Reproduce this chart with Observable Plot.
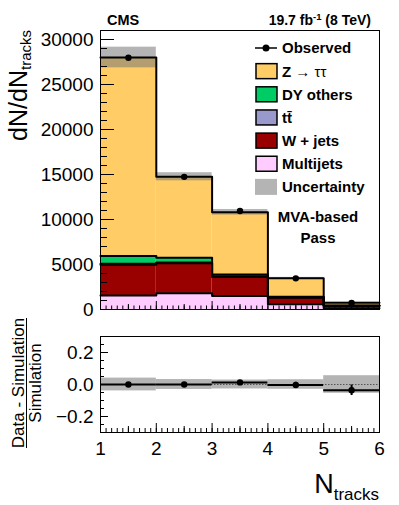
<!DOCTYPE html>
<html><head><meta charset="utf-8">
<script src="https://cdn.jsdelivr.net/npm/d3@7"></script>
<script src="https://cdn.jsdelivr.net/npm/@observablehq/plot@0.6"></script>
<style>
body{margin:0;background:#fff;font-family:"Liberation Sans",Arial,sans-serif;}
#wrap{position:relative;width:399px;height:505px;overflow:hidden;background:#fff}
#topPanel,#ratioPanel{position:absolute;left:0}
#topPanel{top:0}
#ratioPanel{top:300px}
</style></head><body><div id="wrap"><div id="topPanel"></div><div id="ratioPanel"></div></div>
<script>
// ---- data ----
const binLow = [1, 2, 3, 4, 5];
const binHigh = [2, 3, 4, 5, 6];
const processes = ["Multijets", "W + jets", "tt\u0304", "DY others", "Z \u2192 \u03c4\u03c4"]; // bottom -> top
const colors = ["#ffccff", "#990000", "#9999cc", "#00cc66", "#ffcc66"];
const multijets = [1550, 1800, 1500, 580, 150];
const wjets     = [3430, 3330, 2110, 730, 250];
const ttbar     = [100, 90, 80, 40, 20];
const dyOthers  = [870, 540, 210, 60, 30];
const ztautau   = [22050, 8990, 6900, 2060, 310];
const observed  = [27980, 14740, 10940, 3460, 730];
const uncertainty = [1150, 450, 310, 100, 45];
const ratio    = [0.0, 0.0, 0.013, -0.003, -0.036];
const ratioErr = [0.006, 0.008, 0.010, 0.017, 0.033];
const ratioUnc = [0.040, 0.031, 0.028, 0.030, 0.055];
const yTicks = [0, 5000, 10000, 15000, 20000, 25000, 30000];
const xTicks = [1, 2, 3, 4, 5, 6];
const rTicks = [-0.2, 0, 0.2];
const legendLabels = ["Observed", "Z \u2192 \u03c4\u03c4", "DY others", "tt\u0304", "W + jets", "Multijets", "Uncertainty"];

// ---- derived tables ----
const idx = d3.range(binLow.length);
const stackArrays = [multijets, wjets, ttbar, dyOthers, ztautau];
const rows = idx.flatMap(i => stackArrays.map((a, j) => ({lo: binLow[i], hi: binHigh[i], process: processes[j], value: a[i]})));
const total = idx.map(i => d3.sum(stackArrays, a => a[i]));
const outline = stackArrays.flatMap((a, j) => {
  const cum = idx.map(i => d3.sum(stackArrays.slice(0, j + 1), b => b[i]));
  return [...idx.map(i => ({x: binLow[i], y: cum[i], p: j})), {x: binHigh[binHigh.length - 1], y: cum[cum.length - 1], p: j}];
});
const center = i => (binLow[i] + binHigh[i]) / 2;
const font = "'Liberation Sans', Arial, Helvetica, sans-serif";
const noText = () => "";

// ---- top panel ----
const topPlot = Plot.plot({
  width: 399, height: 320,
  marginLeft: 100, marginRight: 20, marginTop: 30, marginBottom: 11,
  x: {domain: [1, 6]},
  y: {domain: [0, 31000]},
  color: {domain: processes, range: colors},
  style: {fontFamily: font, fontSize: "19px", color: "black", background: "white", overflow: "visible"},
  marks: [
    Plot.rectY(rows, {x1: "lo", x2: "hi", y: "value", fill: "process", z: "process"}),
    Plot.rect(idx, {x1: i => binLow[i], x2: i => binHigh[i], y1: i => total[i] - uncertainty[i], y2: i => total[i] + uncertainty[i], fill: "#777", fillOpacity: 0.55}),
    Plot.line(outline, {x: "x", y: "y", z: "p", curve: "step-after", stroke: "black", strokeWidth: 2}),
    Plot.dot(idx, {x: center, y: i => observed[i], r: 3.2, fill: "black"}),
    Plot.axisY(yTicks, {tickSize: 0, tickPadding: 7, fontSize: 19, tickFormat: d => String(d), label: null}),
    Plot.axisY(d3.range(0, 31001, 1000), {tickSize: -7, tickFormat: noText, label: null}),
    Plot.axisY(yTicks, {tickSize: -14, tickFormat: noText, label: null}),
    Plot.axisX(d3.range(1, 6.001, 0.1), {tickSize: -3.5, tickFormat: noText, label: null}),
    Plot.axisX(d3.range(1.5, 6, 1), {tickSize: -5, tickFormat: noText, label: null}),
    Plot.axisX(xTicks, {tickSize: -8, tickFormat: noText, label: null}),
    Plot.frame({stroke: "black", strokeWidth: 1})
  ]
});
document.getElementById("topPanel").appendChild(topPlot);

const s = d3.select(topPlot);
s.append("text").attr("x", 107).attr("y", 25).attr("text-anchor", "start").attr("font-weight", "bold").attr("font-size", 14.5).text("CMS");
const lumi = s.append("text").attr("x", 371).attr("y", 25).attr("text-anchor", "end").attr("font-weight", "bold").attr("font-size", 14);
lumi.append("tspan").text("19.7 fb");
lumi.append("tspan").attr("dy", -5).attr("font-size", 9.5).text("-1");
lumi.append("tspan").attr("dy", 5).text(" (8 TeV)");

const yl = s.append("text").attr("transform", "translate(27,30) rotate(-90)").attr("text-anchor", "end").attr("font-size", 25);
yl.append("tspan").text("dN/dN");
yl.append("tspan").attr("font-size", 15).attr("dy", 4).text("tracks");

// legend
const lg = s.append("g").attr("font-weight", "bold").attr("font-size", 15).attr("text-anchor", "start");
const legendFill = [null, colors[4], colors[3], colors[2], colors[1], colors[0], "unc"];
legendLabels.forEach((lab, k) => {
  const cy = 48 + k * 23.15;
  if (k === 0) {
    lg.append("line").attr("x1", 255).attr("x2", 277).attr("y1", cy).attr("y2", cy).attr("stroke", "black").attr("stroke-width", 1.5);
    lg.append("circle").attr("cx", 266).attr("cy", cy).attr("r", 3.5).attr("fill", "black");
  } else if (legendFill[k] === "unc") {
    lg.append("rect").attr("x", 255).attr("y", cy - 8).attr("width", 22).attr("height", 16).attr("fill", "#777").attr("fill-opacity", 0.55);
  } else {
    lg.append("rect").attr("x", 256).attr("y", cy - 7.5).attr("width", 21).attr("height", 15).attr("fill", legendFill[k]).attr("stroke", "black").attr("stroke-width", 1.5);
  }
  const t = lg.append("text").attr("x", 282).attr("y", cy).attr("dy", "0.36em").attr("text-anchor", "start");
  if (k === 1) {
    t.append("tspan").text("Z");
    t.append("tspan").attr("font-weight", "normal").text(" \u2192 \u03c4\u03c4");
  } else {
    t.text(lab);
  }
});
s.append("text").attr("x", 318).attr("y", 222).attr("text-anchor", "middle").attr("font-weight", "bold").attr("font-size", 15).text("MVA-based");
s.append("text").attr("x", 318).attr("y", 243).attr("text-anchor", "middle").attr("font-weight", "bold").attr("font-size", 15).text("Pass");

// ---- ratio panel ----
const ratioPlot = Plot.plot({
  width: 399, height: 205,
  marginLeft: 100, marginRight: 20, marginTop: 36, marginBottom: 73,
  x: {domain: [1, 6]},
  y: {domain: [-0.3, 0.3]},
  style: {fontFamily: font, fontSize: "19px", color: "black", background: "transparent", overflow: "visible"},
  marks: [
    Plot.rect(idx, {x1: i => binLow[i], x2: i => binHigh[i], y1: i => -ratioUnc[i], y2: i => ratioUnc[i], fill: "#777", fillOpacity: 0.55}),
    Plot.ruleY([0], {stroke: "#555", strokeWidth: 1, strokeDasharray: "1.5,1.5"}),
    Plot.ruleY(idx, {y: i => ratio[i], x1: i => binLow[i], x2: i => binHigh[i], stroke: "black", strokeWidth: 2}),
    Plot.ruleX(idx, {x: center, y1: i => ratio[i] - ratioErr[i], y2: i => ratio[i] + ratioErr[i], stroke: "black", strokeWidth: 2}),
    Plot.dot(idx, {x: center, y: i => ratio[i], r: 3.2, fill: "black"}),
    Plot.axisY(rTicks, {tickSize: 0, tickPadding: 7, fontSize: 19, label: null}),
    Plot.axisY(d3.range(-0.3, 0.3001, 0.05).map(v => Math.round(v * 100) / 100), {tickSize: -4, tickFormat: noText, label: null}),
    Plot.axisY(rTicks, {tickSize: -8, tickFormat: noText, label: null}),
    Plot.axisX(xTicks, {tickSize: 0, tickPadding: 9, fontSize: 19, label: null}),
    Plot.axisX(d3.range(1, 6.001, 0.1), {tickSize: -4, tickFormat: noText, label: null}),
    Plot.axisX(d3.range(1.5, 6, 1), {tickSize: -6, tickFormat: noText, label: null}),
    Plot.axisX(xTicks, {tickSize: -9, tickFormat: noText, label: null}),
    Plot.frame({stroke: "black", strokeWidth: 1})
  ]
});
document.getElementById("ratioPanel").appendChild(ratioPlot);
const r = d3.select(ratioPlot);
r.append("text").attr("transform", "translate(24,83) rotate(-90)").attr("text-anchor", "middle").attr("font-size", 17).text("Data - Simulation");
r.append("line").attr("x1", 26.5).attr("x2", 26.5).attr("y1", 18).attr("y2", 148).attr("stroke", "black").attr("stroke-width", 1);
r.append("text").attr("transform", "translate(41,83) rotate(-90)").attr("text-anchor", "middle").attr("font-size", 17).text("Simulation");
const xt = r.append("text").attr("x", 379).attr("y", 193).attr("text-anchor", "end").attr("font-size", 27);
xt.append("tspan").text("N");
xt.append("tspan").attr("font-size", 17).attr("dy", 7).text("tracks");
</script></body></html>
